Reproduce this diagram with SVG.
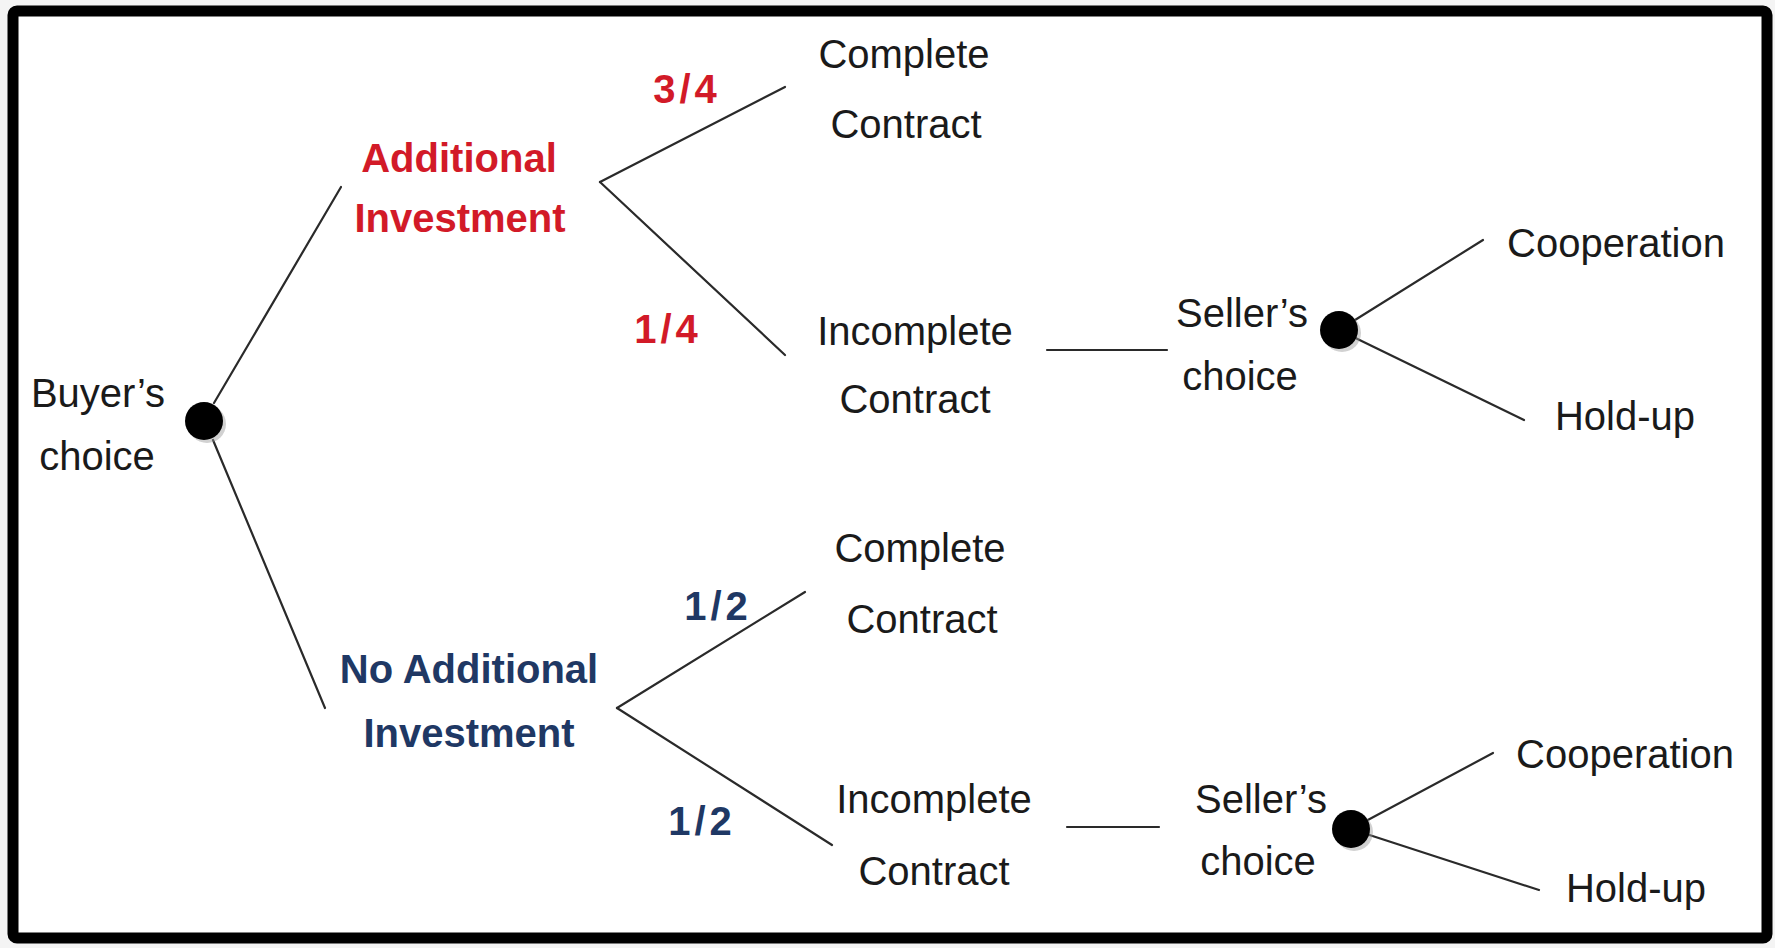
<svg xmlns="http://www.w3.org/2000/svg" width="1775" height="948" viewBox="0 0 1775 948">
<style>
.t{font-family:"Liberation Sans",Arial,sans-serif;font-size:40px;fill:#1a1a1a;text-anchor:middle}
.red{font-weight:bold;fill:#d21a28}
.blue{font-weight:bold;fill:#1f3864}
.num{letter-spacing:4px}
.ln{stroke:#2a2a2a;stroke-width:2.2;fill:none;stroke-linecap:round}
.dot{fill:#000}
.sh{fill:#999;opacity:0.45}
</style>
<rect x="0" y="0" width="1775" height="948" fill="#f4f4f4"/>
<rect x="13" y="11" width="1754" height="927" rx="4" fill="#fff" stroke="#000" stroke-width="11"/>
<g id="connectors">
<line class="ln" x1="214" y1="403" x2="341" y2="187"/>
<line class="ln" x1="213" y1="440" x2="325" y2="708"/>
<line class="ln" x1="600" y1="182" x2="785" y2="87"/>
<line class="ln" x1="600" y1="182" x2="785" y2="355"/>
<line class="ln" x1="1047" y1="350" x2="1167" y2="350"/>
<line class="ln" x1="1339" y1="330" x2="1483" y2="240"/>
<line class="ln" x1="1339" y1="330" x2="1524" y2="420"/>
<line class="ln" x1="617" y1="708" x2="805" y2="592"/>
<line class="ln" x1="617" y1="708" x2="832" y2="845"/>
<line class="ln" x1="1067" y1="827" x2="1159" y2="827"/>
<line class="ln" x1="1351" y1="829" x2="1493" y2="753"/>
<line class="ln" x1="1351" y1="829" x2="1539" y2="890"/>
</g>
<g id="buyer">
<text class="t" x="98" y="407">Buyer’s</text>
<text class="t" x="97" y="470">choice</text>
<circle class="sh" cx="207" cy="424" r="19"/>
<circle class="dot" cx="204" cy="421" r="19"/>
</g>
<g id="additional">
<text class="t red" x="459" y="172">Additional</text>
<text class="t red" x="460" y="232">Investment</text>
</g>
<g id="p34"><text class="t red num" x="687" y="103">3/4</text></g>
<g id="p14"><text class="t red num" x="668" y="343">1/4</text></g>
<g id="complete1">
<text class="t" x="904" y="68">Complete</text>
<text class="t" x="906" y="138">Contract</text>
</g>
<g id="incomplete1">
<text class="t" x="915" y="345">Incomplete</text>
<text class="t" x="915" y="413">Contract</text>
</g>
<g id="seller1">
<text class="t" x="1242" y="327">Seller’s</text>
<text class="t" x="1240" y="390">choice</text>
<circle class="sh" cx="1342" cy="333" r="19"/>
<circle class="dot" cx="1339" cy="330" r="19"/>
</g>
<g id="coop1"><text class="t" x="1616" y="257">Cooperation</text></g>
<g id="holdup1"><text class="t" x="1625" y="430">Hold-up</text></g>
<g id="noadditional">
<text class="t blue" x="469" y="683">No Additional</text>
<text class="t blue" x="469" y="747">Investment</text>
</g>
<g id="p12a"><text class="t blue num" x="718" y="620">1/2</text></g>
<g id="p12b"><text class="t blue num" x="702" y="835">1/2</text></g>
<g id="complete2">
<text class="t" x="920" y="562">Complete</text>
<text class="t" x="922" y="633">Contract</text>
</g>
<g id="incomplete2">
<text class="t" x="934" y="813">Incomplete</text>
<text class="t" x="934" y="885">Contract</text>
</g>
<g id="seller2">
<text class="t" x="1261" y="813">Seller’s</text>
<text class="t" x="1258" y="875">choice</text>
<circle class="sh" cx="1354" cy="832" r="19"/>
<circle class="dot" cx="1351" cy="829" r="19"/>
</g>
<g id="coop2"><text class="t" x="1625" y="768">Cooperation</text></g>
<g id="holdup2"><text class="t" x="1636" y="902">Hold-up</text></g>
</svg>
